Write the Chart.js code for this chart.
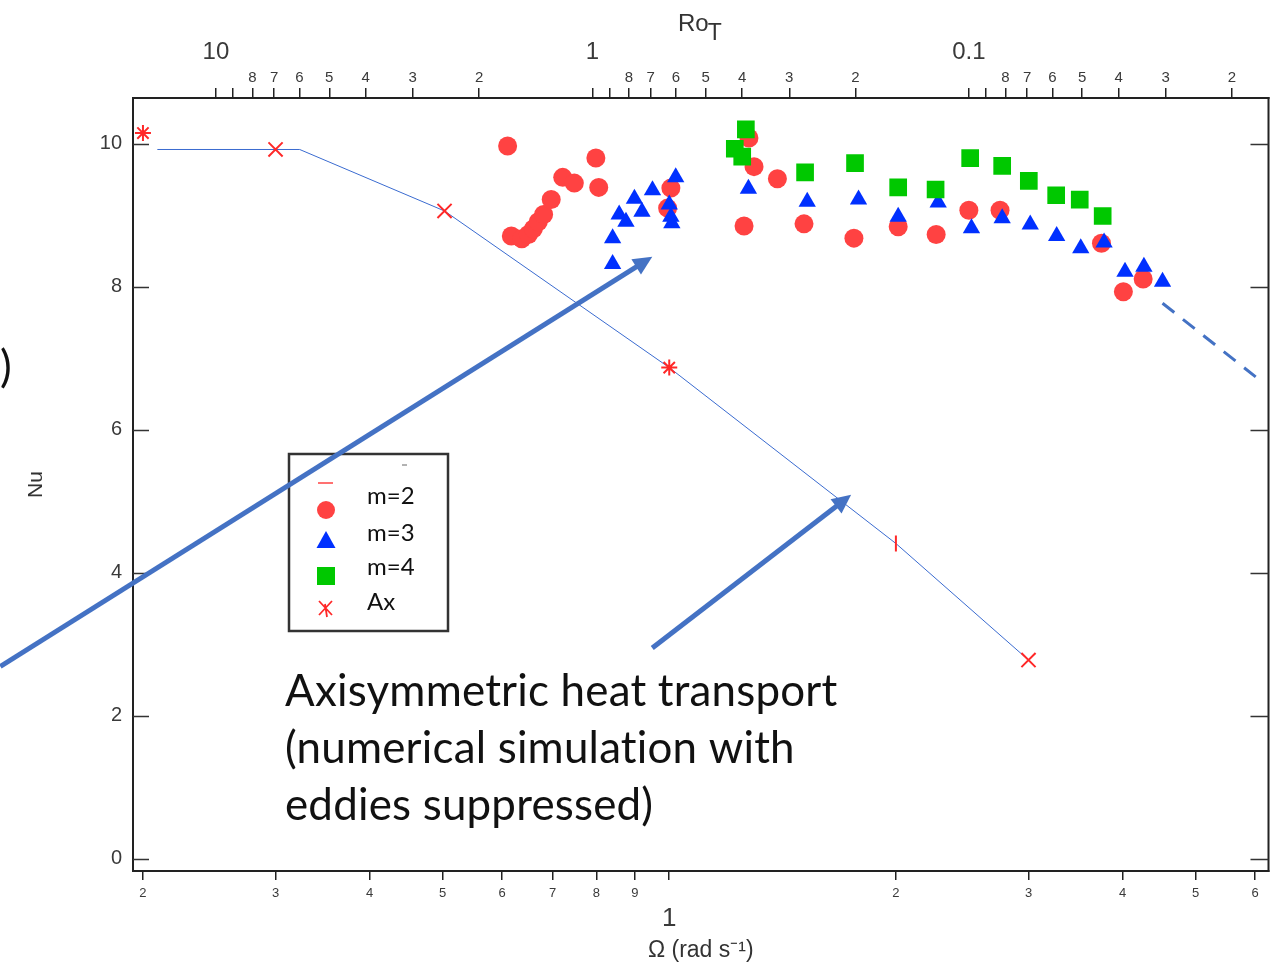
<!DOCTYPE html>
<html>
<head>
<meta charset="utf-8">
<script src="https://cdn.jsdelivr.net/npm/chart.js@4.4.1/dist/chart.umd.min.js"></script>
<style>
html,body{margin:0;padding:0;background:#fff;}
#wrap{width:1281px;height:965px;position:relative;}
</style>
</head>
<body>
<div id="wrap"><canvas id="c"></canvas></div>
<script>
// ---------------- data ----------------
// m=2 (red circles)
const m2Omega = [0.610, 0.617, 0.637, 0.650, 0.660, 0.670, 0.681, 0.697, 0.722, 0.748, 0.799, 0.806, 1.005, 0.995, 1.257, 1.276, 1.296, 1.392, 1.510, 1.759, 2.014, 2.262, 2.500, 2.750, 3.750, 4.010, 4.260];
const m2Nu    = [9.97, 8.71, 8.67, 8.73, 8.81, 8.91, 9.01, 9.22, 9.53, 9.45, 9.80, 9.39, 9.38, 9.10, 8.85, 10.08, 9.68, 9.51, 8.88, 8.68, 8.84, 8.73, 9.07, 9.07, 8.61, 7.93, 8.11];
// m=3 (blue triangles)
const m3Omega = [0.841, 0.841, 0.858, 0.876, 0.899, 0.920, 0.950, 1.000, 1.005, 1.008, 1.020, 1.274, 1.525, 1.784, 2.014, 2.276, 2.520, 2.768, 3.016, 3.270, 3.520, 3.780, 4.030, 4.270, 4.520];
const m3Nu    = [8.32, 8.68, 9.01, 8.91, 9.23, 9.05, 9.35, 9.15, 8.98, 8.89, 9.53, 9.37, 9.19, 9.22, 8.98, 9.18, 8.82, 8.96, 8.87, 8.71, 8.54, 8.62, 8.21, 8.28, 8.07];
// m=4 (green squares)
const m4Omega = [1.222, 1.250, 1.264, 1.515, 1.765, 2.014, 2.258, 2.510, 2.768, 3.003, 3.265, 3.509, 3.764];
const m4Nu    = [9.93, 9.82, 10.20, 9.60, 9.73, 9.39, 9.36, 9.80, 9.69, 9.48, 9.28, 9.22, 8.99];
// Ax (axisymmetric) markers
const axOmega = [0.200, 0.300, 0.503, 1.000, 2.000, 3.000];
const axNu    = [10.15, 9.92, 9.06, 6.87, 4.41, 2.78];
const axMarks = ['star', 'crossRot', 'crossRot', 'star', 'line', 'crossRot'];
const axMarkRot = [0, 0, 0, 0, 90, 0];
const axMarkSize = [8, 10, 10, 8, 8, 10];
// Ax curve
const axLineOmega = [0.209, 0.323, 0.503, 1.000, 2.000, 3.000];
const axLineNu    = [9.92, 9.92, 9.06, 6.87, 4.41, 2.78];
// dashed extrapolation
const extOmega = [4.52, 6.01];
const extNu    = [7.77, 6.74];
// axes
const omegaTicks = [0.2, 0.3, 0.4, 0.5, 0.6, 0.7, 0.8, 0.9, 1, 2, 3, 4, 5, 6];
const omegaMajorTicks = [1];
const roTicks = [10, 9, 8, 7, 6, 5, 4, 3, 2, 1, 0.9, 0.8, 0.7, 0.6, 0.5, 0.4, 0.3, 0.2, 0.1, 0.09, 0.08, 0.07, 0.06, 0.05, 0.04, 0.03, 0.02];
const roMajorTicks = [10, 1, 0.1];
const roMajorLabels = ['10', '1', '0.1'];
const nuTicks = [0, 2, 4, 6, 8, 10];
const legendLabels = ['m=2', 'm=3', 'm=4', 'Ax'];
const noteLines = ['Axisymmetric heat transport', '(numerical simulation with', 'eddies suppressed)'];
// annotation arrows in data coordinates [Ω, Nu]
const arrow1 = [[0.1293, 2.69], [0.9494, 8.42]];
const arrow2 = [[0.9494, 2.95], [1.744, 5.09]];

// ---------------- setup ----------------
const OMEGA_MIN = 0.194, OMEGA_MAX = 6.25;
const NU_MIN = -0.17, NU_MAX = 10.64;
const RO_C = 0.625; // RoT = RO_C / Ω²

const pts = (xs, ys) => xs.map((x, i) => ({x: x, y: ys[i]}));
function leadDigit(v){ const e = Math.floor(Math.log10(v) + 1e-9); return Math.round(v / Math.pow(10, e)); }

const RED = 'rgb(255,66,66)';
const BLUE = 'rgb(0,48,255)';
const GREEN = 'rgb(0,200,0)';
const AXRED = 'rgb(255,40,40)';
const ARROW = '#4472C4';
const AXIS_FONT = 'Liberation Sans';
const NOTE_FONT = 'Lato';

const deco = {
  id: 'deco',
  afterDraw(chart) {
    const {ctx, chartArea: a, scales} = chart;
    const X = v => scales.x.getPixelForValue(v);
    const Y = v => scales.y.getPixelForValue(v);
    ctx.save();
    // right frame side
    ctx.strokeStyle = '#222'; ctx.lineWidth = 2;
    ctx.beginPath(); ctx.moveTo(a.right, a.top - 1); ctx.lineTo(a.right, a.bottom + 1); ctx.stroke();
    // inner y ticks
    ctx.lineWidth = 1.5; ctx.strokeStyle = '#333';
    scales.y.ticks.forEach(t => {
      const py = Math.round(Y(t.value)) + 0.5;
      ctx.beginPath();
      ctx.moveTo(a.left, py); ctx.lineTo(a.left + 16, py);
      ctx.moveTo(a.right - 18, py); ctx.lineTo(a.right, py);
      ctx.stroke();
    });
    // RoT title
    ctx.fillStyle = '#333'; ctx.textBaseline = 'alphabetic'; ctx.textAlign = 'left';
    ctx.font = '24px "' + AXIS_FONT + '"';
    ctx.fillText('Ro', 678, 31);
    const w = ctx.measureText('Ro').width;
    ctx.font = '23px "' + AXIS_FONT + '"';
    ctx.fillText('T', 678 + w - 1, 40);

    // legend box
    ctx.fillStyle = '#fff';
    ctx.fillRect(289, 454, 159, 177);
    ctx.strokeStyle = '#333'; ctx.lineWidth = 2.5;
    ctx.strokeRect(289, 454, 159, 177);
    // stray marks
    ctx.strokeStyle = RED; ctx.lineWidth = 1.5;
    ctx.beginPath(); ctx.moveTo(318, 483); ctx.lineTo(333, 483); ctx.stroke();
    ctx.strokeStyle = '#666'; ctx.lineWidth = 1;
    ctx.beginPath(); ctx.moveTo(402, 465); ctx.lineTo(407, 465); ctx.stroke();
    // markers
    ctx.fillStyle = RED;
    ctx.beginPath(); ctx.arc(326, 510, 9, 0, Math.PI * 2); ctx.fill();
    ctx.fillStyle = BLUE;
    ctx.beginPath(); ctx.moveTo(326, 531); ctx.lineTo(335.5, 548); ctx.lineTo(316.5, 548); ctx.closePath(); ctx.fill();
    ctx.fillStyle = GREEN;
    ctx.fillRect(317, 567, 18, 18);
    ctx.strokeStyle = AXRED; ctx.lineWidth = 1.8;
    ctx.beginPath();
    ctx.moveTo(319, 601); ctx.lineTo(332, 615);
    ctx.moveTo(332, 601); ctx.lineTo(319, 615);
    ctx.moveTo(325, 604); ctx.lineTo(327, 617);
    ctx.stroke();
    // legend text
    ctx.fillStyle = '#111'; ctx.textBaseline = 'middle'; ctx.textAlign = 'left';
    ctx.font = '24px "' + NOTE_FONT + '"';
    const ly = [496, 533, 567, 602];
    legendLabels.forEach((t, i) => ctx.fillText(t, 367, ly[i]));

    // annotation text
    ctx.textBaseline = 'alphabetic';
    try { ctx.letterSpacing = '0.2px'; } catch (e) {}
    let fs = 44;
    ctx.font = fs + 'px "' + NOTE_FONT + '"';
    const mw = ctx.measureText(noteLines[0]).width;
    fs = fs * 552 / mw;
    ctx.font = fs.toFixed(1) + 'px "' + NOTE_FONT + '"';
    noteLines.forEach((t, i) => ctx.fillText(t, 285, 706 + i * 57));
    // cut-off parenthesis at the left edge
    ctx.textAlign = 'right';
    ctx.fillText(')', 12, 382);
    try { ctx.letterSpacing = '0px'; } catch (e) {}

    // arrows
    const drawArrow = (p0, p1) => {
      const x0 = X(p0[0]), y0 = Y(p0[1]), x1 = X(p1[0]), y1 = Y(p1[1]);
      const ang = Math.atan2(y1 - y0, x1 - x0);
      const hl = 19, hw = 9;
      const bx = x1 - hl * Math.cos(ang), by = y1 - hl * Math.sin(ang);
      ctx.strokeStyle = ARROW; ctx.fillStyle = ARROW; ctx.lineWidth = 5; ctx.lineCap = 'butt';
      ctx.beginPath(); ctx.moveTo(x0, y0); ctx.lineTo(bx + 2 * Math.cos(ang), by + 2 * Math.sin(ang)); ctx.stroke();
      ctx.beginPath();
      ctx.moveTo(x1, y1);
      ctx.lineTo(bx + hw * Math.sin(ang), by - hw * Math.cos(ang));
      ctx.lineTo(bx - hw * Math.sin(ang), by + hw * Math.cos(ang));
      ctx.closePath(); ctx.fill();
    };
    drawArrow(arrow1[0], arrow1[1]);
    drawArrow(arrow2[0], arrow2[1]);
    ctx.restore();
  }
};

const axisLabelColor = '#3a3a3a';

new Chart(document.getElementById('c'), {
  type: 'scatter',
  data: {
    datasets: [
      { label: 'Ax line', data: pts(axLineOmega, axLineNu), showLine: true, borderColor: '#3a6bd0', borderWidth: 1, pointRadius: 0, order: 10 },
      { label: 'ext', data: pts(extOmega, extNu), showLine: true, borderColor: ARROW, borderWidth: 3, borderDash: [15, 11], pointRadius: 0, order: 9 },
      { label: 'm=2', data: pts(m2Omega, m2Nu), pointStyle: 'circle', pointRadius: 9.5, backgroundColor: RED, borderWidth: 0, order: 4 },
      { label: 'm=3', data: pts(m3Omega, m3Nu), pointStyle: 'triangle', pointRadius: 10, backgroundColor: BLUE, borderWidth: 0, order: 3 },
      { label: 'm=4', data: pts(m4Omega, m4Nu), pointStyle: 'rect', pointRadius: 12.5, backgroundColor: GREEN, borderWidth: 0, order: 2 },
      { label: 'Ax', data: pts(axOmega, axNu), pointStyle: axMarks, pointRotation: axMarkRot, pointRadius: axMarkSize, borderColor: AXRED, backgroundColor: AXRED, borderWidth: 2, order: 1 }
    ]
  },
  options: {
    responsive: true,
    maintainAspectRatio: false,
    devicePixelRatio: 1,
    animation: false,
    layout: { padding: { left: 0, right: 11, top: 0, bottom: 0 } },
    plugins: { legend: { display: false }, tooltip: { enabled: false } },
    scales: {
      x: {
        type: 'logarithmic', position: 'bottom', min: OMEGA_MIN, max: OMEGA_MAX, weight: 0,
        afterBuildTicks: s => { s.ticks = omegaTicks.map(v => ({value: v})); },
        afterFit: s => { s.height = 30; },
        ticks: { autoSkip: false, maxRotation: 0, minRotation: 0, padding: 6, color: axisLabelColor,
                 font: { family: AXIS_FONT, size: 13 },
                 callback: v => (v === 1 ? '' : String(leadDigit(v))) },
        grid: { drawOnChartArea: false, drawTicks: true, tickLength: 9, color: '#222', lineWidth: 1.5 },
        border: { display: true, color: '#222', width: 2 }
      },
      xOuter: {
        type: 'logarithmic', position: 'bottom', min: OMEGA_MIN, max: OMEGA_MAX, weight: 1,
        afterBuildTicks: s => { s.ticks = omegaMajorTicks.map(v => ({value: v})); },
        afterFit: s => { s.height = 64; },
        ticks: { autoSkip: false, maxRotation: 0, minRotation: 0, padding: 2, color: axisLabelColor,
                 font: { family: AXIS_FONT, size: 26 }, callback: v => String(v) },
        grid: { display: false, drawTicks: false, drawOnChartArea: false },
        border: { display: false },
        title: { display: true, text: 'Ω (rad s⁻¹)', color: '#333', font: { family: AXIS_FONT, size: 23 }, padding: { top: 0, bottom: 1 } }
      },
      xTop: {
        type: 'logarithmic', position: 'top', reverse: true, min: RO_C / (OMEGA_MAX * OMEGA_MAX), max: RO_C / (OMEGA_MIN * OMEGA_MIN), weight: 0,
        afterBuildTicks: s => { s.ticks = roTicks.map(v => ({value: v})); },
        afterFit: s => { s.height = 30; },
        ticks: { autoSkip: false, maxRotation: 0, minRotation: 0, padding: 1, color: axisLabelColor,
                 font: { family: AXIS_FONT, size: 15 },
                 callback: v => { const d = leadDigit(v); return (d === 1 || d === 9) ? '' : String(d); } },
        grid: { drawOnChartArea: false, drawTicks: true, tickLength: 10, color: '#222', lineWidth: 1.5 },
        border: { display: true, color: '#222', width: 2 }
      },
      xTopOuter: {
        type: 'logarithmic', position: 'top', reverse: true, min: RO_C / (OMEGA_MAX * OMEGA_MAX), max: RO_C / (OMEGA_MIN * OMEGA_MIN), weight: 1,
        afterBuildTicks: s => { s.ticks = roMajorTicks.map(v => ({value: v})); },
        afterFit: s => { s.height = 68; },
        ticks: { autoSkip: false, maxRotation: 0, minRotation: 0, padding: 1.5, color: axisLabelColor,
                 font: { family: AXIS_FONT, size: 24 },
                 callback: (v, i) => roMajorLabels[roMajorTicks.indexOf(v)] },
        grid: { display: false, drawTicks: false, drawOnChartArea: false },
        border: { display: false }
      },
      y: {
        type: 'linear', position: 'left', min: NU_MIN, max: NU_MAX,
        afterBuildTicks: s => { s.ticks = nuTicks.map(v => ({value: v})); },
        afterFit: s => { s.width = 133; },
        ticks: { padding: 11, color: axisLabelColor, font: { family: AXIS_FONT, size: 20 } },
        grid: { drawOnChartArea: false, drawTicks: false },
        border: { display: true, color: '#222', width: 2 },
        title: { display: true, text: 'Nu', color: '#333', font: { family: AXIS_FONT, size: 21 }, padding: { top: 24, bottom: 0 } }
      }
    }
  },
  plugins: [deco]
});
</script>
</body>
</html>
